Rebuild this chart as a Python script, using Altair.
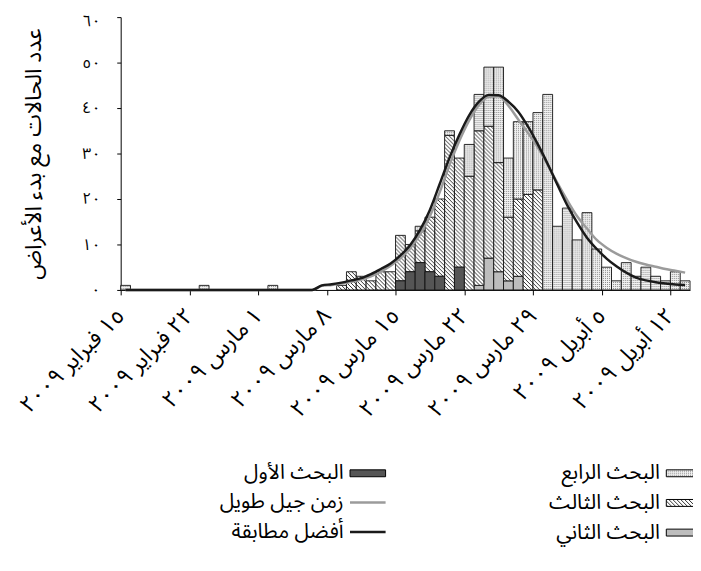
import json
import pandas as pd
import altair as alt
import jinja2

# ---------------- data ----------------
# day index 0 = 15 Feb 2009, one bar per day, 58 days (15 Feb .. 13 Apr)
first_cases = [0,0,0,0,0,0,0,0,0,0,
               0,0,0,0,0,0,0,0,0,0,
               0,0,0,0,0,0,0,0,2,4,
               6,4,3,0,5,0,0,0,0,0,
               0,0,0,0,0,0,0,0,0,0,
               0,0,0,0,0,0,0,0]
second_cases = [0,0,0,0,0,0,0,0,0,0,
                0,0,0,0,0,0,0,0,0,0,
                0,0,0,0,0,0,0,0,0,0,
                0,0,0,0,0,0,1,7,4,2,
                3,0,0,0,0,0,0,0,0,0,
                0,0,0,0,0,0,0,0]
third_cases = [0,0,0,0,0,0,0,0,0,0,
               0,0,0,0,0,0,0,0,0,0,
               0,0,1,4,3,2,4,4,10,6,
               7,12,17,34,24,25,34,29,24,14,
               17,21,22,0,0,0,0,0,0,0,
               0,0,0,0,0,0,0,0]
fourth_cases = [1,0,0,0,0,0,0,0,1,0,
                0,0,0,0,0,1,0,0,0,0,
                0,0,0,0,0,0,0,0,0,0,
                1,0,0,1,0,7,8,13,21,13,
                17,16,17,43,14,18,11,17,9,5,
                2,6,3,5,3,2,4,2]

best_fit = [0]*20 + [1.0,1.25,1.6,2.1,2.6,3.5,4.6,5.8,7.6,9.9,
                     13.2,17.6,23.3,29.1,34.1,38.4,41.4,42.9,42.8,41.4,
                     39.2,35.9,32.0,27.7,23.1,18.6,14.8,11.5,9.0,6.9,
                     5.2,3.8,2.7,2.1,1.7,1.4,1.2,1.1]
long_gen = [0]*20 + [0.9,1.1,1.4,1.8,2.3,3.0,4.0,5.3,7.0,9.2,
                     12.2,16.2,21.5,27.5,32.8,37.3,40.7,42.5,42.6,40.5,
                     37.5,34.5,31.3,27.5,23.5,19.7,16.2,13.5,11.0,9.3,
                     8.0,7.0,6.2,5.6,5.1,4.6,4.2,3.8]

cat_names = ["البحث الأول", "البحث الثاني", "البحث الثالث", "البحث الرابع"]
line_names = ["زمن جيل طويل", "أفضل مطابقة"]

x_tick_values = [0, 7, 14, 21, 28, 35, 42, 49, 56]
x_tick_labels = ["١٥ فبراير ٢٠٠٩", "٢٢ فبراير ٢٠٠٩", "١ مارس ٢٠٠٩", "٨ مارس ٢٠٠٩",
                 "١٥ مارس ٢٠٠٩", "٢٢ مارس ٢٠٠٩", "٢٩ مارس ٢٠٠٩", "٥ أبريل ٢٠٠٩",
                 "١٢ أبريل ٢٠٠٩"]
y_tick_values = [0, 10, 20, 30, 40, 50, 60]
y_tick_labels = ["٠", "١٠", "٢٠", "٣٠", "٤٠", "٥٠", "٦٠"]
y_title = "عدد الحالات مع بدء الأعراض"

# ---------------- tables ----------------
rows = []
for order, (name, vals) in enumerate(zip(cat_names, [first_cases, second_cases, third_cases, fourth_cases])):
    for d, v in enumerate(vals):
        if v > 0:
            rows.append({"day": d, "day_end": d + 1, "cat": name, "n": v, "order": order})
bars_df = pd.DataFrame(rows)

line_rows = []
for name, vals in zip(line_names, [long_gen, best_fit]):
    for d, v in enumerate(vals):
        line_rows.append({"xm": d + 0.5, "v": v, "series": name})
lines_df = pd.DataFrame(line_rows)

# ---------------- styling ----------------
FONT = "Noto Sans Arabic, Noto Naskh Arabic, DejaVu Sans"
HATCH = "url(#hatch) #9a9a9a"
DOTS = "url(#dots) #dcdcdc"
DARK = "#555555"
LIGHT = "#bdbdbd"

x_expr = json.dumps(x_tick_labels, ensure_ascii=False) + "[round(datum.value/7)]"
y_expr = json.dumps(y_tick_labels, ensure_ascii=False) + "[round(datum.value/10)]"

x_scale = alt.Scale(domain=[0, 58], nice=False, zero=False)
y_scale = alt.Scale(domain=[0, 60], nice=False)

x_axis = alt.Axis(values=x_tick_values, labelExpr=x_expr, labelAngle=315, labelAlign="right",
                  labelBaseline="middle", labelFontSize=23, labelPadding=17, labelFlush=False,
                  labelOverlap=False, labelColor="black", tickSize=5, tickColor="black",
                  domainColor="black", grid=False, title=None, labelLimit=300)
y_axis = alt.Axis(values=y_tick_values, labelExpr=y_expr, labelFontSize=16, labelPadding=17,
                  labelOffset={"condition": {"test": "datum.value == 60", "value": 3}, "value": 0},
                  labelFlush=False, labelColor="black", tickSize=4, tickColor="black",
                  domainColor="black", grid=False, title=y_title, titleFontSize=23,
                  titleFontWeight="normal", titleColor="black", titlePadding=37)

RECT_SYM = "M-18,-3.5H18V3.5H-18Z"
LINE_SYM = "M-18,0H18"
LEG_FONT = 21
LEG_LABEL_OFFSET = {"expr": "-35"}

def fill_legend(lx, ly):
    return alt.Legend(title=None, orient="none", legendX=lx, legendY=ly, padding=0,
                      symbolType=RECT_SYM, symbolSize=4, symbolStrokeColor="black",
                      symbolStrokeWidth=1, labelAlign="right", labelOffset=LEG_LABEL_OFFSET,
                      labelFontSize=LEG_FONT, labelColor="black", labelLimit=300, rowPadding=8)

base_bars = alt.Chart(bars_df).transform_stack(
    stack="n", groupby=["day"], as_=["y0", "y1"], sort=[alt.SortField("order", order="ascending")]
)

bars_rest = base_bars.transform_filter(alt.datum.order > 0).mark_bar(
    stroke="#111111", strokeWidth=0.9
).encode(
    x=alt.X("day:Q", scale=x_scale, axis=x_axis),
    x2="day_end:Q",
    y=alt.Y("y0:Q", scale=y_scale, axis=y_axis),
    y2="y1:Q",
    fill=alt.Fill("cat:N",
                  scale=alt.Scale(domain=[cat_names[3], cat_names[2], cat_names[1]],
                                  range=[DOTS, HATCH, LIGHT]),
                  legend=fill_legend(559.5, 451)),
)

bars_first = base_bars.transform_filter(alt.datum.order == 0).mark_bar(
    stroke="#111111", strokeWidth=0.9
).encode(
    x=alt.X("day:Q", scale=x_scale, axis=x_axis),
    x2="day_end:Q",
    y=alt.Y("y0:Q", scale=y_scale, axis=y_axis),
    y2="y1:Q",
    fill=alt.Fill("cat:N", scale=alt.Scale(domain=[cat_names[0]], range=[DARK]),
                  legend=fill_legend(239.5, 451)),
)

line_legend = alt.Legend(title=None, orient="none", legendX=239.5, legendY=480.5, padding=0,
                         symbolType=LINE_SYM, symbolSize=4, symbolStrokeWidth=2.5,
                         symbolFillColor="transparent", labelAlign="right",
                         labelOffset=LEG_LABEL_OFFSET, labelFontSize=LEG_FONT,
                         labelColor="black", labelLimit=300, rowPadding=8)
line_scale = alt.Scale(domain=line_names, range=["#9b9b9b", "#1a1a1a"])

def line_layer(name):
    return alt.Chart(lines_df).transform_filter(alt.datum.series == name).mark_line(
        interpolate="monotone", strokeWidth=2.5
    ).encode(
        x=alt.X("xm:Q", scale=x_scale, axis=x_axis),
        y=alt.Y("v:Q", scale=y_scale, axis=y_axis),
        stroke=alt.Stroke("series:N", scale=line_scale, legend=line_legend),
    )

chart = alt.layer(
    bars_rest, bars_first, line_layer(line_names[0]), line_layer(line_names[1])
).resolve_scale(
    fill="independent"
).properties(
    width=576, height=276,
    autosize=alt.AutoSizeParams(type="none"),
    padding={"left": 114, "top": 6, "right": 3, "bottom": 270},
).configure(font=FONT).configure_view(strokeWidth=0)

# ---------------- page template: adds the hatch / dot fill patterns ----------------
DEFS = """<svg width="0" height="0" style="position:absolute;left:0;top:0" aria-hidden="true">
<defs>
<pattern id="hatch" patternUnits="userSpaceOnUse" width="4" height="4">
<rect width="4" height="4" fill="#ffffff"/>
<path d="M-1,-1L5,5M3,-1L5,1M-1,3L1,5" stroke="#1a1a1a" stroke-width="0.9"/>
</pattern>
<pattern id="dots" patternUnits="userSpaceOnUse" width="2" height="2">
<rect width="2" height="2" fill="#f2f2f2"/>
<rect width="1" height="1" fill="#8a8a8a"/>
</pattern>
</defs>
</svg>"""

template = None
try:
    from altair.utils.html import TEMPLATES
    _std = TEMPLATES["standard"]

    class PatternTemplate(jinja2.Template):
        def render(self, *args, **kwargs):
            html = _std.render(*args, **kwargs)
            if "<body>" in html:
                return html.replace("<body>", "<body>\n" + DEFS, 1)
            return DEFS + html

    _env = jinja2.Environment()
    _env.template_class = PatternTemplate
    template = _env.from_string("")
except Exception:
    template = None

opts = {"renderer": "svg", "actions": False}
try:
    if template is None:
        raise RuntimeError("no template")
    chart.save("out.html", embed_options=opts, template=template)
except Exception:
    chart.save("out.html", embed_options=opts)
